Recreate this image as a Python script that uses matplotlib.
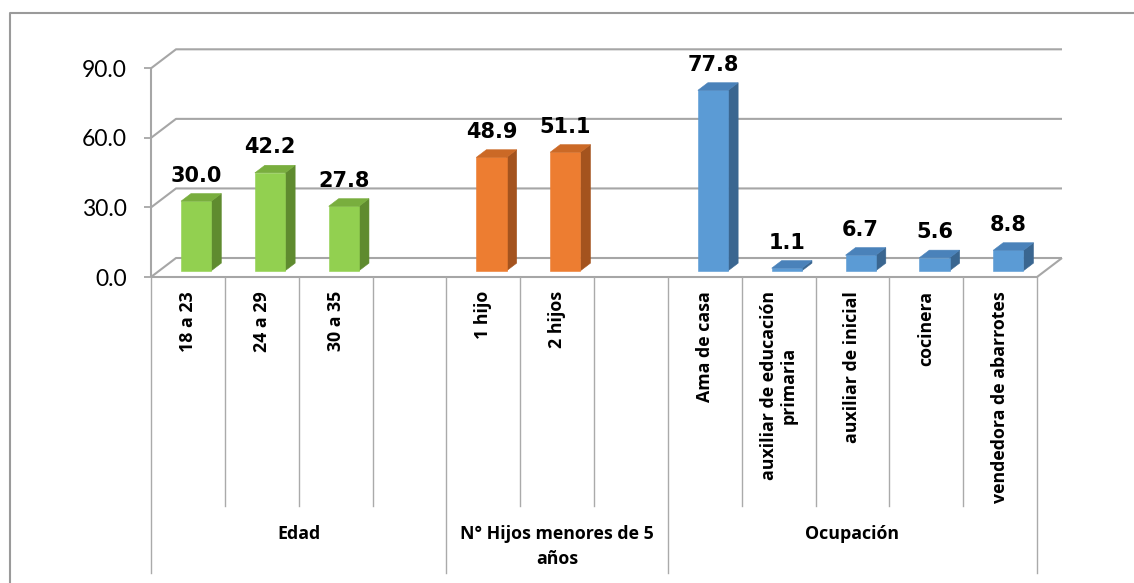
import matplotlib
matplotlib.use("Agg")
import matplotlib.pyplot as plt
from matplotlib.patches import Polygon
from matplotlib.lines import Line2D

# ---- data -------------------------------------------------------------
groups = ["Edad", "N° Hijos menores de 5\naños", "Ocupación"]
group_sizes = [4, 3, 5]          # slots per group (last slot of the first two is empty)
categories = ["18 a 23", "24 a 29", "30 a 35", "",
              "1 hijo", "2 hijos", "",
              "Ama de casa", "auxiliar de educación\nprimaria",
              "auxiliar de inicial", "cocinera", "vendedora de abarrotes"]
values = [30.0, 42.2, 27.8, None,
          48.9, 51.1, None,
          77.8, 1.1, 6.7, 5.6, 8.8]
value_group = [0, 0, 0, None, 1, 1, None, 2, 2, 2, 2, 2]
y_ticks = [0, 30, 60, 90]

# ---- styling ----------------------------------------------------------
face_colors = [  # front, side, top
    ("#92D050", "#5F8B2F", "#79AE3E"),
    ("#ED7D31", "#A4531E", "#CB6926"),
    ("#5B9BD5", "#3A6690", "#4A82BA"),
]
GRID = "#A6A6A6"
SEP = "#AAAAAA"
LABEL_FONT = "Open Sans"

W, H = 1134, 583
fig = plt.figure(figsize=(W / 100, H / 100), dpi=100)
ax = fig.add_axes([151 / W, (H - 277) / H, 886 / W, 208.7 / H])
n = len(categories)
ax.set_xlim(0, n)
ax.set_ylim(0, 90)
for s in ax.spines.values():
    s.set_visible(False)
ax.set_xticks([])
ax.set_yticks(y_ticks)
ax.set_yticklabels([f"{t:.1f}" for t in y_ticks], fontfamily="Lato", fontsize=16.5)
ax.tick_params(axis="y", length=5.2, width=1.3, color=GRID, pad=12)

# oblique depth of the floor, in (category, value) units
DX, DY = 0.3386, 8.19


def proj(x, y, z):
    return (x + z * DX, y + z * DY)


def line(pts, **kw):
    xs, ys = zip(*pts)
    ax.add_line(Line2D(xs, ys, color=GRID, lw=1.5, clip_on=False,
                       solid_capstyle="butt", zorder=1, **kw))


# back wall gridlines with the left-wall diagonals
for t in y_ticks:
    line([proj(0, t, 0), proj(0, t, 1), proj(n, t, 1)])
# front value axis and floor edges
line([proj(0, 0, 0), proj(0, y_ticks[-1], 0)])
line([proj(0, 0, 0), proj(n, 0, 0), proj(n, 0, 1)])

# ---- 3D columns --------------------------------------------------------
half_w = 0.205
z0, z1 = 0.33, 0.73
for i, (v, g) in enumerate(zip(values, value_group)):
    if v is None:
        continue
    front_c, side_c, top_c = face_colors[g]
    xa, xb = i + 0.5 - half_w, i + 0.5 + half_w
    front = [proj(xa, 0, z0), proj(xb, 0, z0), proj(xb, v, z0), proj(xa, v, z0)]
    side = [proj(xb, 0, z0), proj(xb, 0, z1), proj(xb, v, z1), proj(xb, v, z0)]
    top = [proj(xa, v, z0), proj(xb, v, z0), proj(xb, v, z1), proj(xa, v, z1)]
    for pts, c in ((side, side_c), (front, front_c), (top, top_c)):
        ax.add_patch(Polygon(pts, closed=True, facecolor=c, edgecolor=c,
                             lw=0.4, clip_on=False, zorder=3))
    lx = proj(i + 0.5, v, z0)[0]
    ly = proj(i + 0.5, v, z1)[1]
    ax.annotate(f"{v:.1f}", xy=(lx, ly), xytext=(0, 8.5), textcoords="offset points",
                ha="center", va="baseline", fontsize=15, fontweight="bold",
                fontfamily="DejaVu Sans", color="black", zorder=5,
                annotation_clip=False)

# ---- two-level category axis -------------------------------------------
xt = ax.get_xaxis_transform()
bounds = [0]
for gs in group_sizes:
    bounds.append(bounds[-1] + gs)
for b in range(n + 1):
    bottom = -1.418 if b in bounds else -1.097
    ax.add_line(Line2D([b, b], [0, bottom], transform=xt, color=SEP, lw=1.0,
                       clip_on=False, zorder=1))

for i, lab in enumerate(categories):
    if lab:
        ax.text(i + 0.5, -0.067, lab, transform=xt, rotation=90, ha="center",
                va="top", multialignment="center", fontsize=12.8,
                fontweight="bold", fontfamily=LABEL_FONT, linespacing=1.1)

for g, lab in enumerate(groups):
    cx = (bounds[g] + bounds[g + 1]) / 2
    ax.text(cx, -1.188, lab, transform=xt, ha="center", va="top",
            multialignment="center", fontsize=12.8, fontweight="bold",
            fontfamily=LABEL_FONT, linespacing=1.5)

# chart-area border
fig.add_artist(Line2D([10 / W, 10 / W, 1.0], [0.0, (H - 13) / H, (H - 13) / H],
                      transform=fig.transFigure, color="#9A9A9A", lw=1.5))

fig.savefig("out.png", dpi=100)
